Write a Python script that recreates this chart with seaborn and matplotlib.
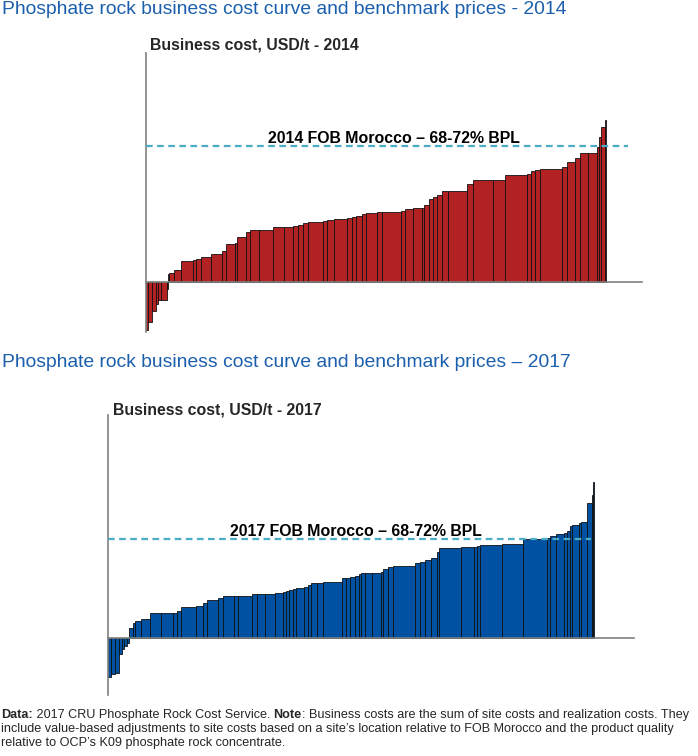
import numpy as np
import pandas as pd
import matplotlib
matplotlib.use("Agg")
import matplotlib.pyplot as plt
import seaborn as sns

# ---------------- data ----------------
# 2014 cost curve: capacity (Mt, bar width) and business cost (USD/t, bar height)
cap_2014 = [1.17, 1.67, 2.0, 1.33, 1.33, 2.83, 0.67, 0.67, 2.5, 3.17,
            6.0, 1.5, 2.5, 5.0, 5.5, 2.17, 4.5, 0.83, 4.67, 2.0,
            4.67, 7.0, 5.33, 4.67, 2.5, 2.5, 2.5, 7.5, 1.67, 3.83,
            6.17, 2.5, 2.0, 3.0, 2.17, 5.33, 2.83, 9.33, 2.0, 4.17,
            4.17, 1.33, 2.33, 2.17, 1.67, 2.5, 3.33, 9.17, 3.0, 10.33,
            5.83, 11.17, 1.67, 2.17, 2.5, 10.83, 2.5, 4.17, 2.5, 4.17,
            4.17, 1.33, 0.67, 2.17, 0.5]
cost_2014 = [-48.3, -40.0, -29.5, -22.0, -18.7, -18.0, -7.0, 7.7, 8.3, 12.0,
             20.5, 21.7, 22.3, 24.3, 27.7, 31.0, 37.7, 39.0, 45.0, 50.0,
             51.7, 51.7, 55.0, 55.0, 55.5, 56.7, 59.0, 60.0, 60.5, 61.7,
             62.7, 63.3, 65.0, 66.0, 67.3, 68.3, 70.0, 70.0, 71.0, 72.3,
             73.3, 74.0, 76.7, 82.7, 85.0, 86.7, 91.0, 91.0, 97.7, 101.7,
             101.7, 106.7, 107.7, 111.0, 111.7, 112.3, 115.0, 119.3, 123.3, 129.0,
             129.0, 135.0, 145.0, 155.0, 162.0]
bench_2014 = 135.7

# 2017 cost curve
cap_2017 = [1.35, 2.0, 2.0, 1.35, 1.15, 1.35, 1.15, 2.15, 0.85, 3.0,
            4.5, 5.35, 6.0, 2.3, 1.7, 7.65, 3.35, 2.0, 5.8, 2.5,
            5.5, 2.0, 6.7, 2.5, 4.15, 5.0, 4.15, 1.35, 1.65, 1.7,
            1.65, 4.0, 2.15, 1.2, 3.3, 3.0, 9.2, 2.15, 2.0, 2.5,
            2.0, 0.85, 2.15, 3.35, 4.5, 1.3, 2.5, 2.5, 10.85, 2.5,
            2.5, 3.0, 2.85, 1.15, 11.0, 6.65, 1.2, 1.65, 11.15, 10.5,
            11.7, 1.65, 2.85, 4.3, 1.2, 1.65, 0.85, 3.65, 1.0, 3.15,
            2.2, 0.65, 0.65]
cost_2017 = [-39.7, -36.0, -35.0, -16.7, -11.7, -8.3, -5.0, 9.3, 14.3, 17.0,
             18.3, 24.3, 24.3, 24.3, 27.0, 31.0, 31.7, 34.3, 37.7, 39.3,
             42.0, 42.0, 42.0, 43.3, 44.0, 44.0, 44.3, 45.3, 46.7, 47.7,
             48.7, 49.3, 50.3, 52.7, 54.3, 55.0, 55.3, 59.3, 60.0, 61.0,
             62.0, 63.3, 64.3, 65.0, 65.0, 66.0, 68.3, 70.3, 71.7, 74.3,
             75.3, 78.0, 79.3, 86.0, 89.3, 91.0, 91.0, 92.0, 92.7, 93.3,
             98.7, 100.0, 101.7, 103.3, 104.3, 106.7, 111.7, 112.7, 115.0, 116.0,
             134.3, 142.7, 156.0]
bench_2017 = 98.7

titles = ["Phosphate rock business cost curve and benchmark prices - 2014",
          "Phosphate rock business cost curve and benchmark prices \u2013 2017"]
ylabels = ["Business cost, USD/t - 2014", "Business cost, USD/t - 2017"]
bench_labels = ["2014 FOB Morocco \u2013 68-72% BPL", "2017 FOB Morocco \u2013 68-72% BPL"]
footnote_line1 = [("Data:", "bold"), (" 2017 CRU Phosphate Rock Cost Service. ", "normal"),
                  ("Note", "bold"),
                  (": Business costs are the sum of site costs and realization costs. They", "normal")]
footnote_line2 = ("include value-based adjustments to site costs based on a site\u2019s location "
                  "relative to FOB Morocco and the product quality")
footnote_line3 = "relative to OCP\u2019s K09 phosphate rock concentrate."

# ---------------- style ----------------
sns.set_theme(style="white")
plt.rcParams["font.family"] = ["Liberation Sans", "DejaVu Sans"]

W, H = 698, 756
fig = plt.figure(figsize=(W / 100, H / 100), dpi=100)
fig.patch.set_facecolor("white")


def px_axes(l, t, r, b):
    return fig.add_axes([l / W, 1 - b / H, (r - l) / W, (b - t) / H])


def cost_curve(ax, caps, costs, bench, label, color, xmax, ymin, ymax, dash_end):
    edges = [0.0] + list(np.cumsum(caps))
    mids = [(a + b) / 2 for a, b in zip(edges[:-1], edges[1:])]
    df = pd.DataFrame({"mid": mids, "cost": costs})
    sns.histplot(data=df, x="mid", weights="cost", bins=edges, ax=ax,
                 color=color, alpha=1, edgecolor="#111111", linewidth=0.6)
    ax.set_xlim(0, xmax)
    ax.set_ylim(ymin, ymax)
    ax.hlines(bench, 0, dash_end, colors="#4BACC6", linestyles=(0, (3.0, 2.0)),
              linewidth=1.6, zorder=5)
    ax.annotate(label, xy=(124, bench), xytext=(0, 3), textcoords="offset pixels",
                ha="center", va="baseline", fontsize=11.4, fontweight="bold",
                color="black")
    for s in ["top", "right"]:
        ax.spines[s].set_visible(False)
    ax.spines["left"].set_color("#808080")
    ax.spines["left"].set_linewidth(1.2)
    ax.spines["bottom"].set_position(("data", 0))
    ax.spines["bottom"].set_color("#808080")
    ax.spines["bottom"].set_linewidth(1.2)
    ax.set_xticks([])
    ax.set_yticks([])
    ax.set_xlabel("")
    ax.set_ylabel("")
    ax.set_facecolor("none")


ax1 = px_axes(146, 53, 642, 332)
cost_curve(ax1, cap_2014, cost_2014, bench_2014, bench_labels[0], "#B22222",
           248, -50.3, 228.7, 241)

ax2 = px_axes(108.3, 415, 633.7, 695)
cost_curve(ax2, cap_2017, cost_2017, bench_2017, bench_labels[1], "#0051A2",
           262.7, -57.3, 222.7, 241.5)

title_color = "#1B5FAD"
fig.text(2 / W, 1 - 14 / H, titles[0], fontsize=13.9, color=title_color, va="baseline")
fig.text(2 / W, 1 - 367 / H, titles[1], fontsize=13.9, color=title_color, va="baseline")

fig.text(150 / W, 1 - 50 / H, ylabels[0], fontsize=11.4, fontweight="bold", va="baseline")
fig.text(113 / W, 1 - 414 / H, ylabels[1], fontsize=11.4, fontweight="bold", va="baseline")

# footnote: first line mixes bold and regular pieces, placed side by side
fs = 9.05
renderer = fig.canvas.get_renderer()
x_px = 1.0
for txt, wt in footnote_line1:
    t = fig.text(x_px / W, 1 - 718 / H, txt, fontsize=fs, fontweight=wt, va="baseline")
    x_px += t.get_window_extent(renderer).width

fig.text(1 / W, 1 - 732 / H, footnote_line2, fontsize=fs, va="baseline")
fig.text(1 / W, 1 - 746 / H, footnote_line3, fontsize=fs, va="baseline")

fig.savefig("out.png", dpi=100, facecolor="white")
